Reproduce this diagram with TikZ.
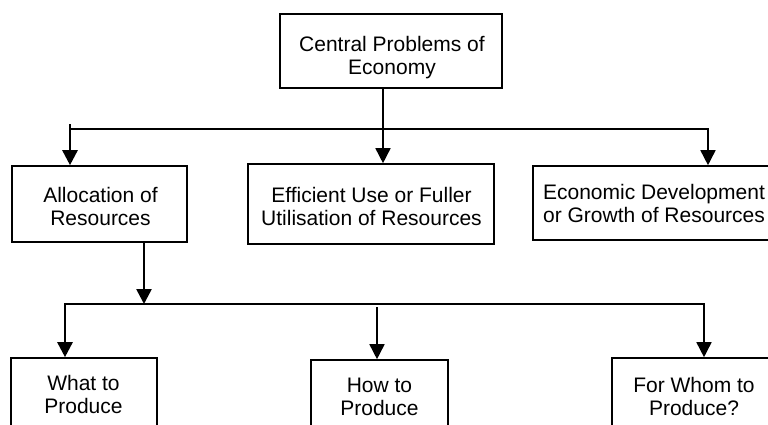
\documentclass[tikz,border=0pt]{standalone}
\usepackage{fontspec}
\setmainfont{Liberation Sans}
\usetikzlibrary{arrows.meta}
\tikzset{
  boxnode/.style={draw, line width=1.6pt, inner sep=0pt, anchor=center},
  txtnode/.style={inner sep=0pt, anchor=center, align=center, font=\fontsize{21}{23}\selectfont},
  busline/.style={line width=1.6pt},
  thinarrow/.style={line width=1.6pt, -{Triangle[width=15pt,length=15pt]}},
  thickarrow/.style={line width=2.6pt, line cap=rect, -{Triangle[width=15pt,length=15pt]}}
}
\begin{document}
\begin{tikzpicture}[x=1pt,y=-1pt]
\useasboundingbox (0,0) rectangle (768,425);
\fill[white] (0,0) rectangle (768,425);
\clip (0,0) rectangle (768,425);
% boxes
\node[boxnode, minimum width=222pt, minimum height=74pt] (top) at (391,51) {};
\node[boxnode, minimum width=175pt, minimum height=76pt] (alloc) at (99.5,204) {};
\node[boxnode, minimum width=246pt, minimum height=80pt] (eff) at (371,204) {};
\node[boxnode, minimum width=242pt, minimum height=74pt] (econ) at (654,203) {};
\node[boxnode, minimum width=146pt, minimum height=72pt] (what) at (84,394) {};
\node[boxnode, minimum width=137pt, minimum height=74pt] (how) at (379.5,397) {};
\node[boxnode, minimum width=164pt, minimum height=76pt] (whom) at (694,396) {};
% texts
\node[txtnode] (toptxt) at (392,57.5) {Central Problems of\\Economy};
\node[txtnode] (alloctxt) at (100.5,206.3) {Allocation of\\Resources};
\node[txtnode] (efftxt) at (371.5,206.5) {Efficient Use or Fuller\\Utilisation of Resources};
\node[txtnode] (econtxt) at (654,203) {Economic Development\\or Growth of Resources};
\node[txtnode] (whattxt) at (83.5,394.4) {What to\\Produce};
\node[txtnode] (howtxt) at (379.5,397) {How to\\Produce};
\node[txtnode] (whomtxt) at (694,396) {For Whom to\\Produce?};
% upper bus
\coordinate (b1L) at (70,129);
\coordinate (b1Ltop) at (70,125);
\coordinate (b1M) at (383,129);
\coordinate (b1R) at (708,129);
\draw[thinarrow] (top.south -| b1M) -- (eff.north -| b1M);
\draw[thinarrow] (b1L) -- (b1R) -- (econ.north -| b1R);
\draw[thickarrow] (b1Ltop) -- (alloc.north -| b1Ltop);
% lower bus
\coordinate (b2L) at (65,304);
\coordinate (b2A) at (144,304);
\coordinate (b2M) at (377,307);
\coordinate (b2R) at (704,304);
\draw[thickarrow] (alloc.south -| b2A) -- (b2A);
\draw[thinarrow] (b2L) -- (b2R) -- (whom.north -| b2R);
\draw[thickarrow] (b2L) -- (what.north -| b2L);
\draw[thinarrow] (b2M) -- (how.north -| b2M);
\end{tikzpicture}
\end{document}
